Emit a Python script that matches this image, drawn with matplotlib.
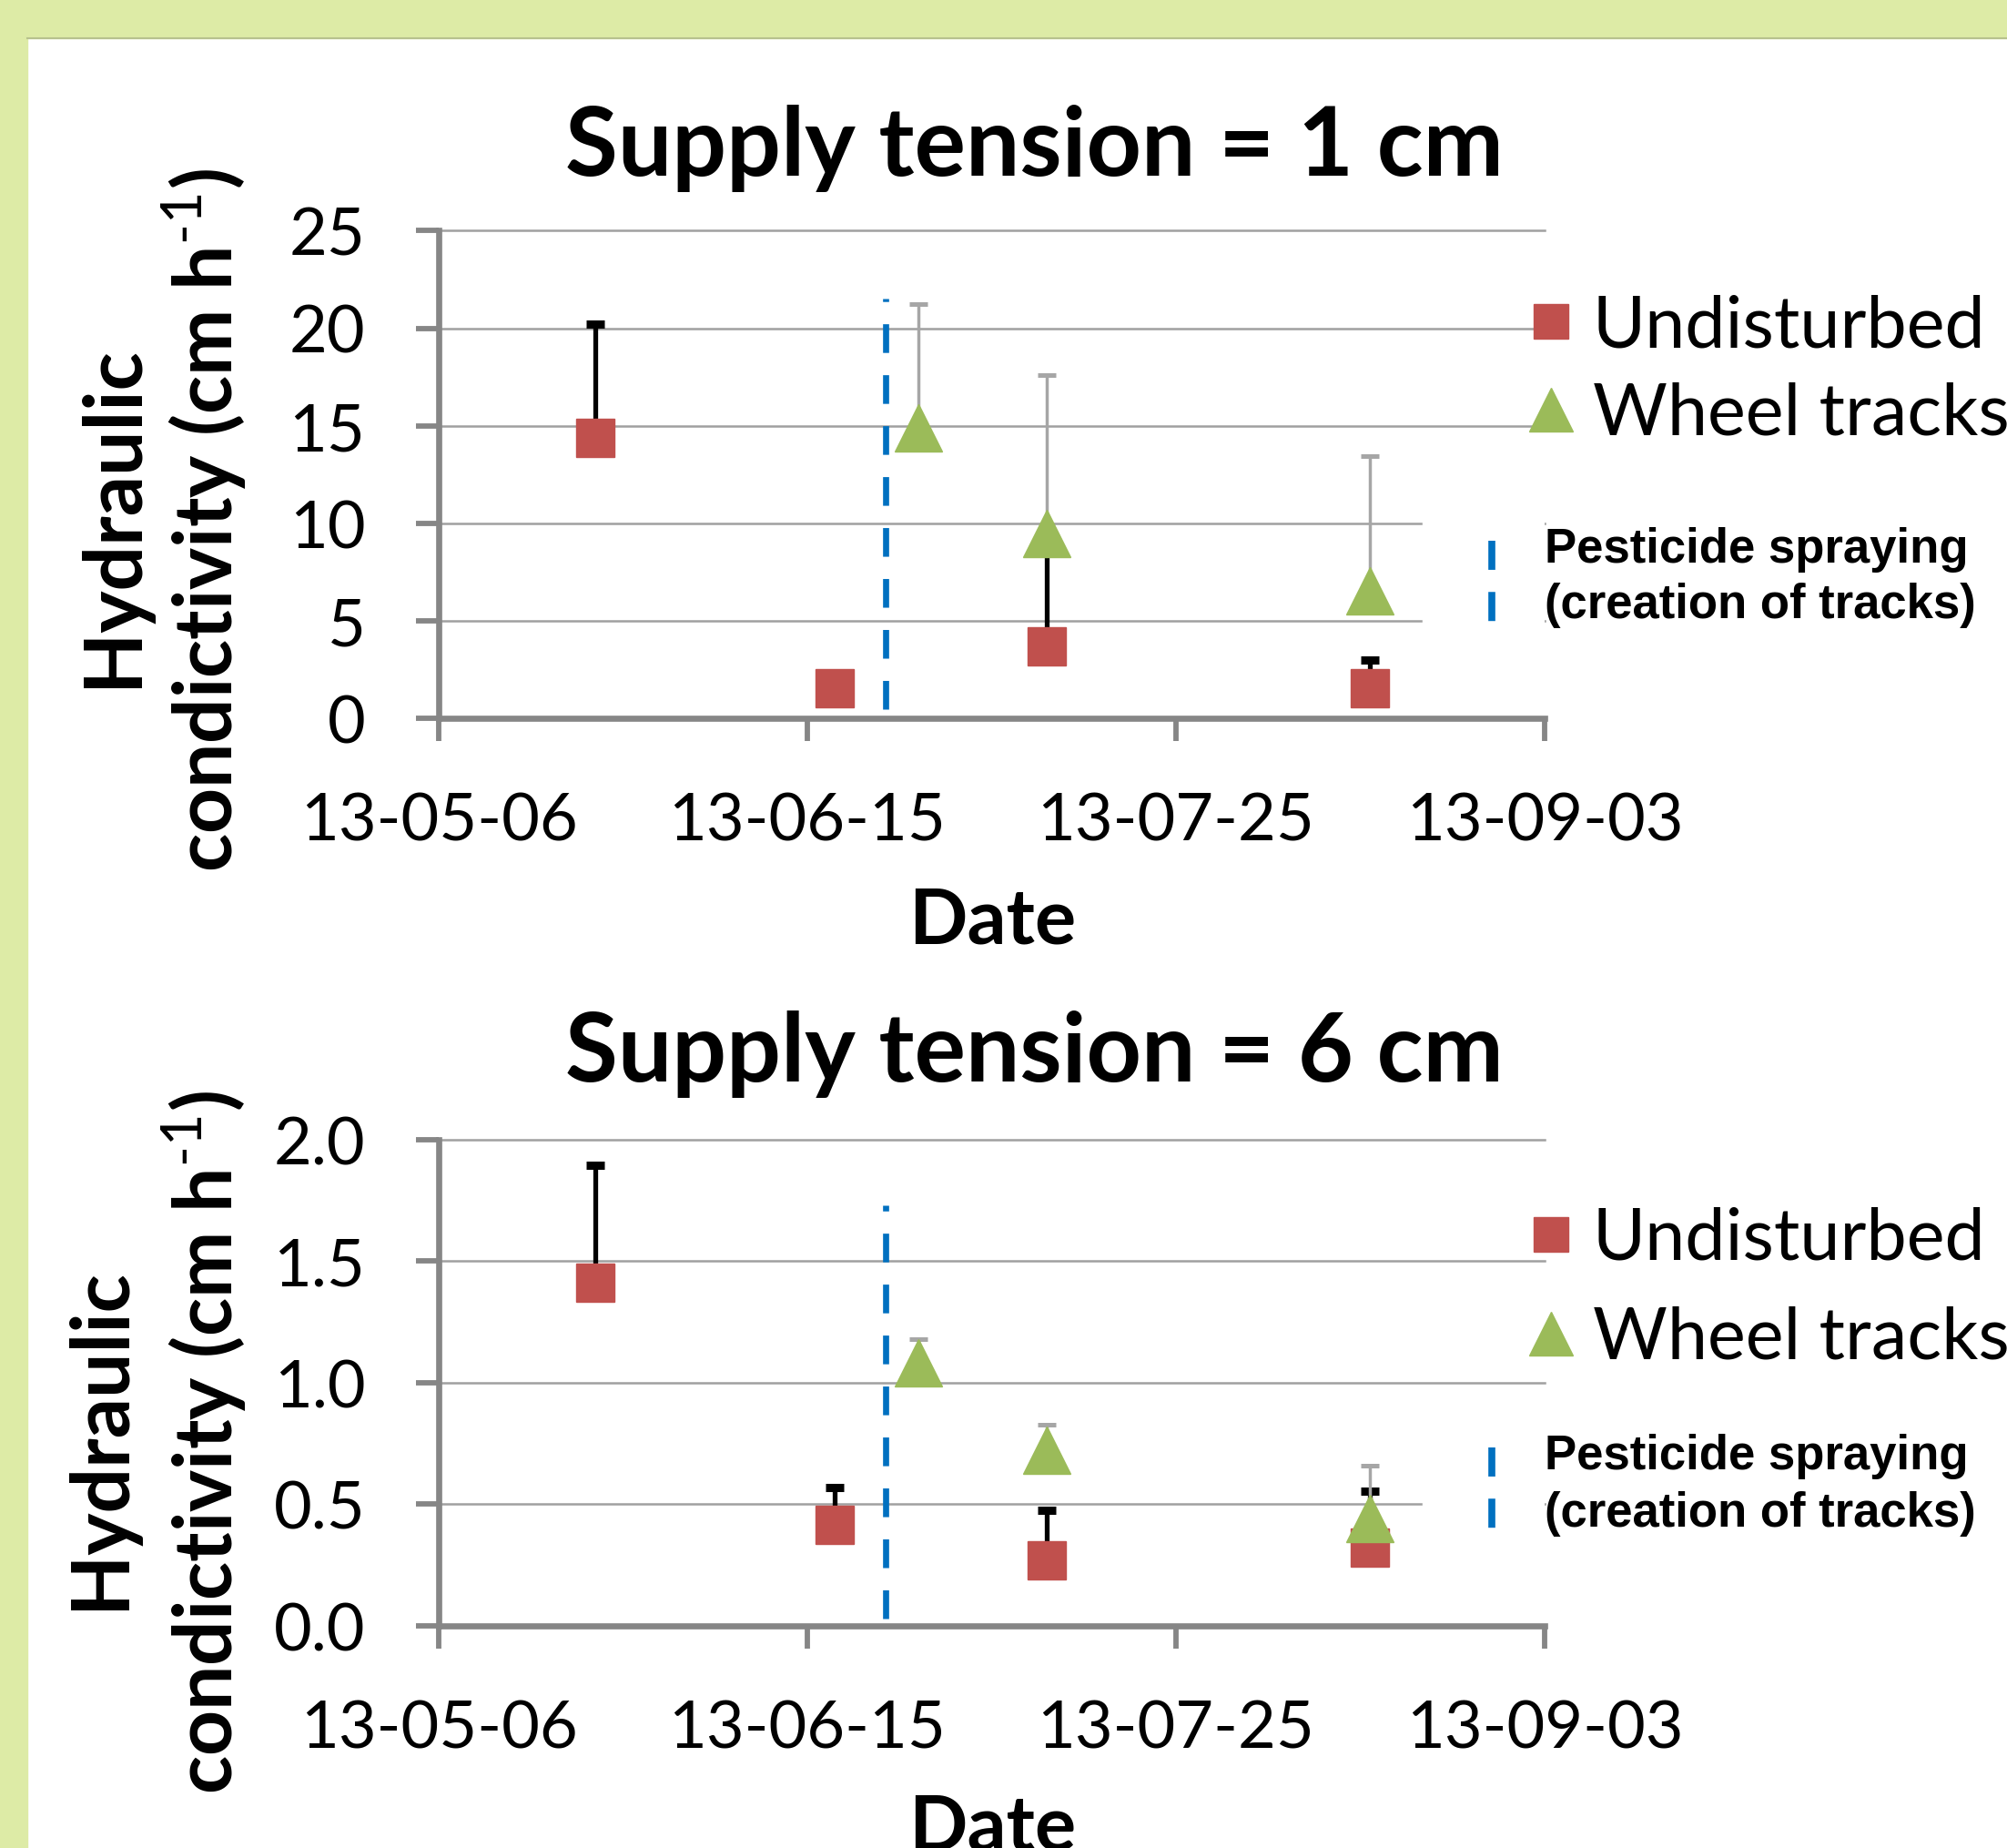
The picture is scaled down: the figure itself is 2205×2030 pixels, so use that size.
import numpy as np
import matplotlib
matplotlib.use('Agg')
import matplotlib.pyplot as plt
import matplotlib.dates as mdates
from matplotlib.lines import Line2D
from matplotlib.patches import Rectangle
import pandas as pd

plt.rcParams['font.family'] = ['Lato', 'DejaVu Sans']
plt.rcParams['mathtext.fontset'] = 'custom'
plt.rcParams['mathtext.rm'] = 'Lato'
plt.rcParams['mathtext.bf'] = 'Lato:bold'
plt.rcParams['lines.scale_dashes'] = False

# measurement dates
undist_dates = pd.to_datetime(['2013-05-23', '2013-06-18', '2013-07-11', '2013-08-15'])
wheel_dates = pd.to_datetime(['2013-06-27', '2013-07-11', '2013-08-15'])
spray_date = pd.to_datetime('2013-06-23 12:00')
tick_dates = pd.to_datetime(['2013-05-06', '2013-06-15', '2013-07-25', '2013-09-03'])

# supply tension = 1 cm
k1_undist = [14.4, 1.55, 3.7, 1.55]
k1_undist_err = [5.8, 0.0, 5.5, 1.47]
k1_wheel = [14.9, 9.47, 6.55]
k1_wheel_err = [6.35, 8.13, 6.92]
k1_spray = [0.5, 21.5]

# supply tension = 6 cm
k6_undist = [1.41, 0.414, 0.27, 0.32]
k6_undist_err = [0.485, 0.154, 0.204, 0.232]
k6_wheel = [1.08, 0.72, 0.44]
k6_wheel_err = [0.10, 0.108, 0.217]
k6_spray = [0.03, 1.728]

RED = '#C0504D'
GREEN = '#9BBB59'
BLUE = '#0070C0'
AXGRAY = '#868686'
W, H = 2205, 2031

fig = plt.figure(figsize=(W / 100, H / 100), dpi=100)
fig.patch.set_facecolor('white')

# green frame round the slide
fig.add_artist(Rectangle((0, 1 - 43 / H), 1, 43 / H, transform=fig.transFigure,
                         color='#DDEBA6', zorder=0))
fig.add_artist(Rectangle((0, 0), 30 / W, 1, transform=fig.transFigure,
                         color='#DDEBA6', zorder=0))
fig.add_artist(Line2D([30 / W, 1], [1 - 43 / H, 1 - 43 / H], transform=fig.transFigure,
                      color='#B7C28E', lw=1.5))


def fx(px):
    return px / W


def fy(py):
    return 1 - py / H


def panel(top_px, axis_px, title, title_y, u, u_err, w, w_err, spray, ymax, ystep,
          fmt, ylab_x1, ylab_y, leg_y, pest_y, mask):
    ax = fig.add_axes([fx(482), fy(axis_px), fx(1697) - fx(482), (axis_px - top_px) / H])
    ax.set_xlim(tick_dates[0], tick_dates[-1])
    ax.set_ylim(0, ymax)
    ax.set_xticks(tick_dates)
    ax.xaxis.set_major_formatter(mdates.DateFormatter('%y-%m-%d'))
    ax.set_yticks(np.arange(0, ymax + ystep / 2, ystep))
    ax.yaxis.set_major_formatter(matplotlib.ticker.FormatStrFormatter(fmt))
    for s in ['top', 'right']:
        ax.spines[s].set_visible(False)
    for s in ['left', 'bottom']:
        ax.spines[s].set_color(AXGRAY)
        ax.spines[s].set_linewidth(4.8)
    ax.tick_params(axis='both', direction='out', length=18, width=4.2, color=AXGRAY,
                   labelsize=52, pad=40)
    ax.set_axisbelow(True)
    ax.yaxis.grid(True, color='#A0A0A0', lw=1.8)
    for gl in ax.get_ygridlines():
        gl.set_clip_on(False)
    ax.add_patch(Rectangle((mask[0], mask[1]), 1 - mask[0], mask[2], transform=ax.transAxes,
                           color='white', zorder=1))

    ax.errorbar(undist_dates, u, yerr=[np.zeros(len(u)), u_err], fmt='s', color=RED,
                ms=30.5, ecolor='black', elinewidth=3.8, capsize=7, capthick=6.5, zorder=3)
    ax.errorbar(wheel_dates, w, yerr=[np.zeros(len(w)), w_err], fmt='^', color=GREEN,
                ms=37, ecolor='#A6A6A6', elinewidth=2.5, capsize=7, capthick=3.6, zorder=4)
    ax.plot([spray_date, spray_date], spray, color=BLUE, lw=4.8, dashes=(22.7, 17.6), zorder=2)

    fig.text(fx(1136), fy(title_y), title, ha='center', va='baseline',
             fontsize=76, fontweight='bold')
    fig.text(fx(1090), fy(axis_px + 246), 'Date', ha='center', va='baseline',
             fontsize=61, fontweight='bold')
    fig.text(fx(ylab_x1), fy(ylab_y), 'Hydraulic', rotation=90, ha='center', va='center',
             fontsize=63, fontweight='bold')
    fig.text(fx(225), fy(ylab_y + 4), r'condictivity (cm h$^{\text{-1}}$)', rotation=90,
             ha='center', va='center', fontsize=63, fontweight='bold')

    # legend
    fig.add_artist(Line2D([fx(1704)], [fy(leg_y[0])], transform=fig.transFigure,
                          marker='s', ms=27, color=RED, ls='none'))
    fig.add_artist(Line2D([fx(1704)], [fy(leg_y[1])], transform=fig.transFigure,
                          marker='^', ms=34, color=GREEN, ls='none'))
    fig.text(fx(1750), fy(leg_y[0] + 5), 'Undisturbed', ha='left', va='center', fontsize=57)
    fig.text(fx(1750), fy(leg_y[1] + 5), 'Wheel tracks', ha='left', va='center', fontsize=57)
    fig.add_artist(Line2D([fx(1639), fx(1639)], [fy(pest_y[0] - 5), fy(pest_y[1] + 23)],
                          transform=fig.transFigure, color=BLUE, lw=5.5,
                          dashes=(23, 17.5)))
    fig.text(fx(1697), fy(pest_y[0] + 4), 'Pesticide spraying', ha='left', va='center',
             fontsize=38, fontweight='bold', family=['Liberation Sans'])
    fig.text(fx(1697), fy(pest_y[1] + 4), '(creation of tracks)', ha='left', va='center',
             fontsize=38, fontweight='bold', family=['Liberation Sans'])
    return ax


panel(254.3, 790.3, 'Supply tension = 1 cm', 193, k1_undist, k1_undist_err, k1_wheel,
      k1_wheel_err, k1_spray, 25, 5, '%d', 124, 567, (354, 451), (600, 661),
      (0.89, 0.08, 0.4))
panel(1252.8, 1786.6, 'Supply tension = 6 cm', 1188, k6_undist, k6_undist_err, k6_wheel,
      k6_wheel_err, k6_spray, 2.0, 0.5, '%.1f', 110, 1580, (1357, 1466), (1596, 1659),
      (0.89, 0.1, 0.35))

fig.savefig('out.png', dpi=100)
